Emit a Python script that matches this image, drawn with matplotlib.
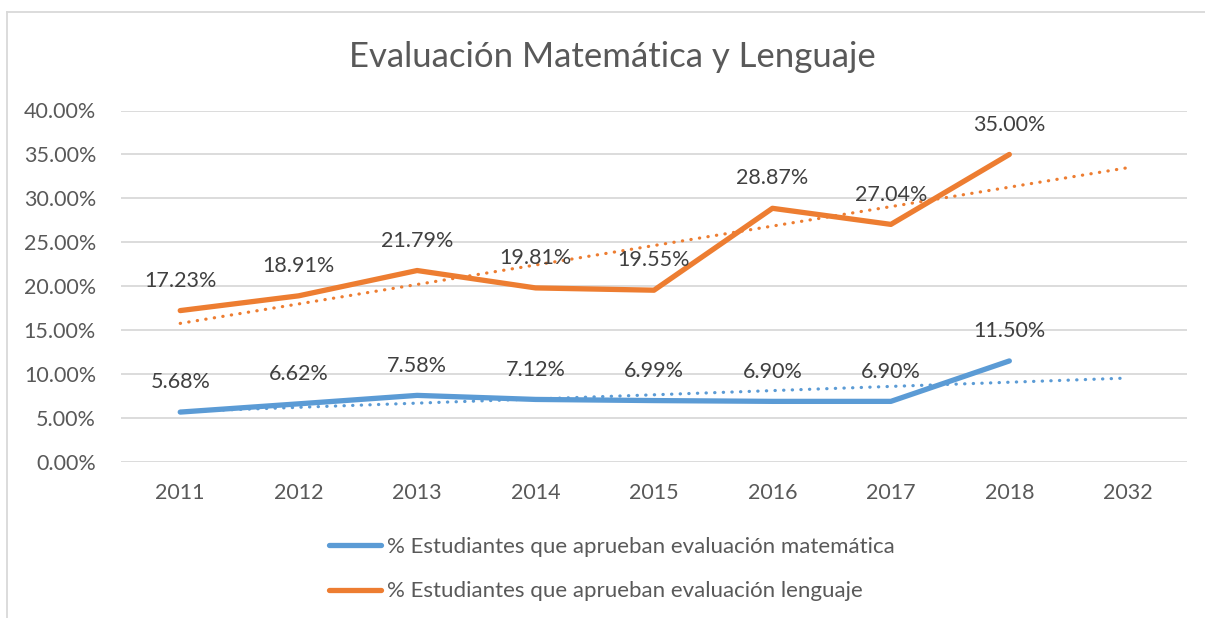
import numpy as np
import matplotlib
matplotlib.use('Agg')
import matplotlib.pyplot as plt
from matplotlib.lines import Line2D
from matplotlib.ticker import FuncFormatter

plt.rcParams['font.family'] = ['Lato', 'DejaVu Sans']

# data
years = ['2011', '2012', '2013', '2014', '2015', '2016', '2017', '2018', '2032']
matematica = [5.68, 6.62, 7.58, 7.12, 6.99, 6.90, 6.90, 11.50]
lenguaje = [17.23, 18.91, 21.79, 19.81, 19.55, 28.87, 27.04, 35.00]
label_mat = '% Estudiantes que aprueban evaluación matemática'
label_len = '% Estudiantes que aprueban evaluación lenguaje'

blue = '#5B9BD5'
orange = '#ED7D31'
text_col = '#595959'
grid_col = '#D9D9D9'

fig = plt.figure(figsize=(12.05, 6.18), dpi=100)
ax = fig.add_axes([121 / 1205, 1 - 462 / 618, (1187 - 121) / 1205, (462 - 110.5) / 618])

x_all = np.arange(len(years))
x_dat = np.arange(len(matematica))

series = [(matematica, blue, label_mat), (lenguaje, orange, label_len)]
for vals, col, lab in series:
    y = np.array(vals) / 100
    # linear trendline, extended to the last category
    slope, inter = np.polyfit(x_dat, y, 1)
    ax.plot(x_all, slope * x_all + inter, color=col, lw=2.3, ls=(0, (0.1, 2.6)),
            dash_capstyle='round', zorder=2)
    ax.plot(x_dat, y, color=col, lw=3.8, solid_capstyle='round',
            solid_joinstyle='round', zorder=3)
    for xi, yi in zip(x_dat, y):
        ax.annotate(f'{yi * 100:.2f}%', (xi, yi), xytext=(0, 21.5),
                    textcoords='offset points', ha='center', va='center',
                    fontsize=15.5, color='#404040', zorder=4)

ax.set_xlim(-0.5, len(years) - 0.5)
ax.set_ylim(0, 0.40)
ax.set_yticks(np.arange(0, 0.401, 0.05))
ax.yaxis.set_major_formatter(FuncFormatter(lambda v, p: f'{v * 100:.2f}%'))
ax.set_xticks(x_all)
ax.set_xticklabels(years)
ax.grid(axis='y', color=grid_col, lw=1.3)
ax.set_axisbelow(True)
for s in ax.spines.values():
    s.set_visible(False)
ax.tick_params(axis='both', length=0, labelsize=15.5, colors=text_col)
ax.tick_params(axis='x', pad=15)
ax.tick_params(axis='y', pad=18)

fig.text(612 / 1205, 1 - 57 / 618, 'Evaluación Matemática y Lenguaje',
         ha='center', va='center', fontsize=25, color=text_col)

handles = [Line2D([], [], color=blue, lw=3.8, solid_capstyle='round'),
           Line2D([], [], color=orange, lw=3.8, solid_capstyle='round')]
fig.legend(handles, [label_mat, label_len], loc='center',
           bbox_to_anchor=(612 / 1205, 1 - 569 / 618), frameon=False,
           fontsize=16, labelcolor=text_col, handlelength=2.35,
           handletextpad=0.27, labelspacing=1.12)

# chart frame
fig.add_artist(Line2D([7 / 1205, 7 / 1205], [0, 1 - 12 / 618], color='#D9D9D9', lw=1.3,
                      transform=fig.transFigure))
fig.add_artist(Line2D([7 / 1205, 1], [1 - 12 / 618, 1 - 12 / 618], color='#D9D9D9', lw=1.3,
                      transform=fig.transFigure))

fig.savefig('out.png', dpi=100)
